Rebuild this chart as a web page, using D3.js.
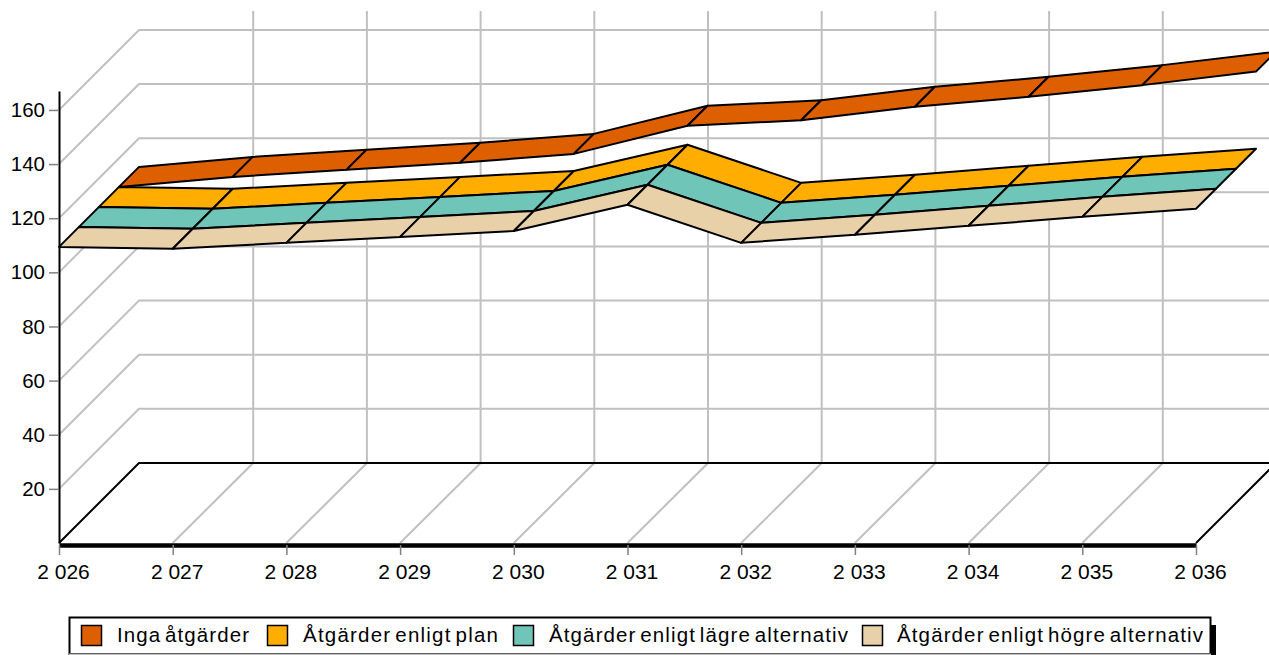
<!DOCTYPE html>
<html lang="en">
<head>
<meta charset="utf-8">
<title>Ribbon chart</title>
<script src="https://d3js.org/d3.v7.min.js"></script>
<style>
  html, body { margin: 0; padding: 0; background: #fff; overflow: hidden; }
  svg { display: block; }
  text { font-family: "Liberation Sans", Arial, sans-serif; fill: #000; }
  .grid { fill: none; stroke: #c0c0c0; stroke-width: 2; }
  .ribbon { stroke: #000; stroke-width: 2; stroke-linejoin: round; }
</style>
</head>
<body>
<script>
var years = [2026, 2027, 2028, 2029, 2030, 2031, 2032, 2033, 2034, 2035, 2036];
var yTicks = [20, 40, 60, 80, 100, 120, 140, 160];

var ingaAtgarder = [109.4, 113.1, 115.7, 118.3, 121.6, 132, 134, 139, 142.7, 147, 152];
var enligtPlan = [109.4, 108.7, 110.9, 113.1, 115.3, 125, 110.9, 113.9, 117.2, 120.5, 123.5];
var lagreAlternativ = [109.4, 108.7, 110.9, 113.1, 115.3, 125, 110.9, 113.9, 117.2, 120.5, 123.5];
var hogreAlternativ = [109.4, 108.7, 110.9, 113.1, 115.3, 125, 110.9, 113.9, 117.2, 120.5, 123.5];

var seriesNames = ["Inga åtgärder", "Åtgärder enligt plan", "Åtgärder enligt lägre alternativ", "Åtgärder enligt högre alternativ"];
var seriesValues = [ingaAtgarder, enligtPlan, lagreAlternativ, hogreAlternativ];
var seriesColors = ["#dd5f00", "#ffad00", "#6ec5b8", "#e8d0a9"];

var width = 1269, height = 655;

var svg = d3.select("body").append("svg")
  .attr("width", width)
  .attr("height", height);

var x = d3.scaleLinear().domain([2026, 2036]).range([59, 1196]);
var y = d3.scaleLinear().domain([0, 167]).range([543, 91]);
// depth of the fake 3d box, one slot per series
var depth = d3.scaleLinear().domain([0, 4]).range([0, 80]);
var back = depth(4);

function fmtYear(d) { return "2 " + String(d).slice(1); }

// back wall and side wall grid
yTicks.forEach(function(t) {
  svg.append("path").attr("class", "grid")
    .attr("d", d3.line()([[x(2026), y(t)], [x(2026) + back, y(t) - back], [x(2036) + back, y(t) - back]]));
});

// floor and back wall verticals
years.slice(1, -1).forEach(function(t) {
  svg.append("path").attr("class", "grid")
    .attr("d", d3.line()([[x(t), y(0)], [x(t) + back + 0.5, y(0) - back], [x(t) + back + 0.5, y(167) - back]]));
});

// floor outline
svg.append("path")
  .attr("fill", "none").attr("stroke", "#000").attr("stroke-width", 2)
  .attr("d", d3.line()([
    [x(2026), y(0)], [x(2026) + back, y(0) - back],
    [x(2036) + back, y(0) - back], [x(2036), y(0)]
  ]));

// ribbons, back one first
seriesValues.forEach(function(vals, s) {
  var front = depth(3 - s), rear = depth(4 - s);
  d3.range(vals.length - 1).forEach(function(i) {
    var x0 = x(years[i]), x1 = x(years[i + 1]);
    var y0 = y(vals[i]), y1 = y(vals[i + 1]);
    svg.append("path")
      .attr("class", "ribbon")
      .attr("fill", seriesColors[s])
      .attr("d", d3.line()([
        [x0 + front, y0 - front], [x1 + front, y1 - front],
        [x1 + rear, y1 - rear], [x0 + rear, y0 - rear]
      ]) + "Z");
  });
});

// axes
var yAxis = svg.append("g")
  .attr("transform", "translate(" + x(2026) + ",0)")
  .call(d3.axisLeft(y).tickValues(yTicks).tickSize(10).tickPadding(4).tickSizeOuter(0));
yAxis.select(".domain").attr("stroke", "#000").attr("stroke-width", 2);
yAxis.selectAll(".tick line").attr("stroke", "#808080").attr("stroke-width", 1.5);
yAxis.selectAll("text").style("font-size", "20.5px").style("font-family", "Liberation Sans");

var xAxis = svg.append("g")
  .attr("transform", "translate(0," + (y(0) + 2) + ")")
  .call(d3.axisBottom(x).tickValues(years).tickFormat(fmtYear).tickSize(10).tickPadding(9).tickSizeOuter(0));
xAxis.select(".domain").attr("stroke", "#000").attr("stroke-width", 4.5);
xAxis.selectAll(".tick line").attr("stroke", "#808080").attr("stroke-width", 1.5);
xAxis.selectAll("text").attr("dx", 4).style("font-size", "21px").style("font-family", "Liberation Sans");

// legend
var swatchX = [81.5, 267.5, 513.5, 862.5];
var labelX = [117, 303, 549, 897];
var labelW = [132, 195, 299, 306];

svg.append("rect").attr("x", 74).attr("y", 625).attr("width", 1142).attr("height", 40).attr("fill", "#000");
svg.append("rect").attr("x", 69.5).attr("y", 617.5).attr("width", 1141).attr("height", 36.5)
  .attr("fill", "#fff").attr("stroke", "#000").attr("stroke-width", 2);
svg.append("path").attr("class", "grid").attr("d", d3.line()([[69, 654.5], [1211, 654.5]]));

seriesNames.forEach(function(name, i) {
  svg.append("rect")
    .attr("x", swatchX[i]).attr("y", 625.5).attr("width", 20).attr("height", 20)
    .attr("fill", seriesColors[i]).attr("stroke", "#000").attr("stroke-width", 1.5);
  svg.append("text")
    .attr("x", labelX[i]).attr("y", 642)
    .attr("textLength", labelW[i]).attr("lengthAdjust", "spacing")
    .style("font-size", "20.5px")
    .style("word-spacing", "-3px")
    .text(name);
});
</script>
</body>
</html>
